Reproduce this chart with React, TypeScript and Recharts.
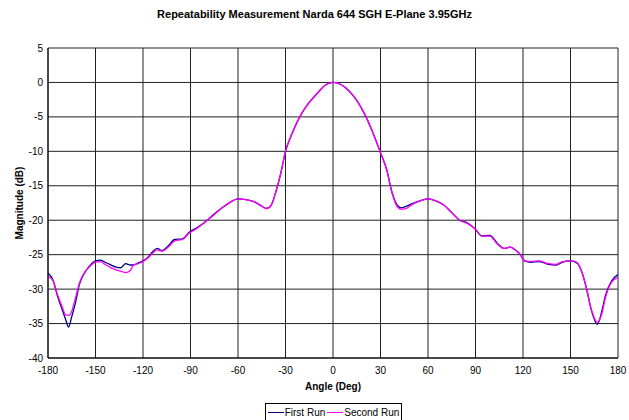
import React from 'react'
import { LineChart, Line, XAxis, YAxis, CartesianGrid } from 'recharts'

const angles = [
  -180, -177, -174, -171, -169, -167, -165, -163, -160, -157, -154, -150, -147, -144, -141, -137,
  -134, -131, -128, -126, -123, -120, -117, -114, -111, -108, -104, -100, -95, -91, -86, -80,
  -75, -70, -65, -60, -55, -50, -46, -42, -39, -36, -33, -30, -26, -21, -16, -10, -5, 0,
  5, 10, 15, 20, 25, 30, 34, 37, 40, 43, 46, 50, 55, 60, 65, 70, 75, 80, 85, 90, 94, 99,
  104, 108, 112, 115, 118, 121, 125, 130, 136, 141, 145, 150, 154, 157, 160, 163, 167, 170,
  172, 176, 180,
]

const firstRun = [
  -27.7, -28.6, -31.0, -33.0, -34.3, -35.5, -34.0, -32.3, -29.2, -27.7, -26.7, -25.9, -25.8, -26.1, -26.4, -26.8,
  -26.9, -26.3, -26.5, -26.5, -26.2, -25.9, -25.4, -24.6, -24.1, -24.4, -23.7, -22.8, -22.7, -21.8, -21.1, -20.1,
  -19.1, -18.2, -17.4, -16.9, -17.0, -17.3, -17.8, -18.3, -17.8, -15.8, -13.2, -10.0, -7.5, -5.0, -3.2, -1.6, -0.4, 0,
  -0.3, -1.2, -2.6, -4.6, -7.2, -10.2, -12.7, -15.7, -17.6, -18.2, -18.0, -17.6, -17.2, -16.9, -17.2, -17.8, -18.9, -20.0, -20.4, -21.3, -22.3, -22.2,
  -23.4, -24.1, -23.9, -24.3, -24.9, -25.9, -26.1, -26.0, -26.4, -26.5, -26.1, -25.9, -26.2, -27.4, -29.8, -32.9, -35.1, -33.0,
  -31.0, -28.8, -27.9,
]

const secondRun = [
  -28.2, -28.7, -30.8, -32.6, -33.7, -33.8, -33.2, -31.6, -29.0, -27.6, -26.8, -26.1, -26.0, -26.4, -26.8, -27.2,
  -27.4, -27.6, -27.3, -26.5, -26.3, -26.0, -25.5, -24.8, -24.3, -24.5, -23.9, -23.0, -22.8, -21.9, -21.2, -20.1,
  -19.2, -18.2, -17.4, -16.9, -17.0, -17.3, -17.8, -18.3, -17.8, -15.8, -13.2, -10.0, -7.5, -5.0, -3.2, -1.6, -0.4, 0,
  -0.3, -1.2, -2.6, -4.6, -7.2, -10.2, -12.8, -15.8, -17.8, -18.4, -18.3, -17.7, -17.2, -16.9, -17.2, -17.8, -18.9, -20.0, -20.5, -21.3, -22.3, -22.3,
  -23.5, -24.1, -23.9, -24.3, -24.9, -25.9, -26.0, -25.9, -26.3, -26.4, -26.0, -25.9, -26.1, -27.4, -29.8, -32.8, -34.8, -33.4,
  -31.3, -29.0, -28.3,
]

const xTicks = [-180, -150, -120, -90, -60, -30, 0, 30, 60, 90, 120, 150, 180]
const yTicks = [5, 0, -5, -10, -15, -20, -25, -30, -35, -40]

const data = angles.map((a, i) => ({ angle: a, first: firstRun[i], second: secondRun[i] }))

const font = '"Liberation Sans", Arial, sans-serif'
const tickStyle = { fontSize: 10, fill: '#000', fontFamily: font }

export default function App() {
  return (
    <div style={{ position: 'fixed', left: 0, top: 0, width: 629, height: 420, background: '#fff', fontFamily: font, overflow: 'hidden' }}>
      <div style={{ position: 'absolute', top: 8, left: 0, width: 629, textAlign: 'center', fontSize: 11, fontWeight: 'bold' }}>
        Repeatability Measurement Narda 644 SGH E-Plane 3.95GHz
      </div>
      <div style={{
        position: 'absolute', left: 19, top: 203, fontSize: 10, fontWeight: 'bold',
        transform: 'translate(-50%, -50%) rotate(-90deg)', whiteSpace: 'nowrap',
      }}>
        Magnitude (dB)
      </div>
      <div style={{ position: 'absolute', top: 381, left: 48, width: 570, textAlign: 'center', fontSize: 10, fontWeight: 'bold' }}>
        Angle (Deg)
      </div>
      <LineChart width={629} height={420} data={data} margin={{ top: 48, right: 11, left: 0, bottom: 0 }}>
        <CartesianGrid stroke="#222" strokeWidth={1} />
        <XAxis
          dataKey="angle"
          type="number"
          domain={[-180, 180]}
          ticks={xTicks}
          interval={0}
          height={62}
          tickSize={0}
          tickMargin={9}
          tick={tickStyle}
          axisLine={{ stroke: '#000' }}
        />
        <YAxis
          type="number"
          domain={[-40, 5]}
          ticks={yTicks}
          interval={0}
          width={48}
          tickSize={0}
          tickMargin={5}
          tick={tickStyle}
          axisLine={{ stroke: '#000' }}
        />
        <Line type="monotone" dataKey="first" name="First Run" stroke="#000080" strokeWidth={1.3} dot={false} isAnimationActive={false} />
        <Line type="monotone" dataKey="second" name="Second Run" stroke="#ff00ff" strokeWidth={1.3} dot={false} isAnimationActive={false} />
      </LineChart>
      <div style={{
        position: 'absolute', left: 265, top: 403, width: 137, height: 20, boxSizing: 'border-box',
        border: '1px solid #000', borderBottom: 'none', display: 'flex', alignItems: 'center', justifyContent: 'center',
        fontSize: 10, whiteSpace: 'nowrap', paddingBottom: 3,
      }}>
        <span style={{ display: 'inline-block', width: 16, height: 0, borderTop: '1px solid #000080', marginRight: 1 }} />
        <span style={{ marginRight: 2 }}>First Run</span>
        <span style={{ display: 'inline-block', width: 16, height: 0, borderTop: '1px solid #ff00ff', marginRight: 1 }} />
        <span>Second Run</span>
      </div>
    </div>
  )
}
